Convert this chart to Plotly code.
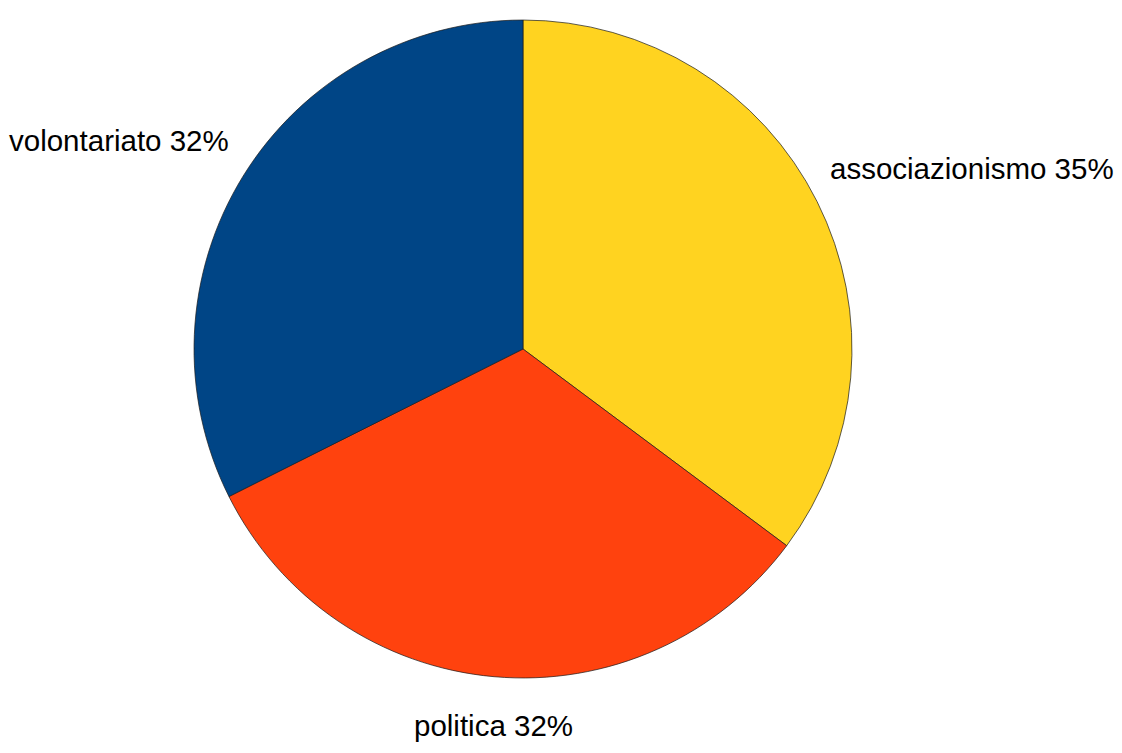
import plotly.graph_objects as go

labels = ["associazionismo", "politica", "volontariato"]
values = [35.2, 32.4, 32.4]
colors = ["#FFD320", "#FF420E", "#004586"]

# label placement (paper coordinates)
label_x = [0.8592, 0.4323, 0.0989]
label_y = [0.7862, 0.0478, 0.8247]

total = sum(values)
texts = [f"{l} {round(v / total * 100)}%" for l, v in zip(labels, values)]

fig = go.Figure()
fig.add_trace(go.Pie(
    labels=labels,
    values=values,
    sort=False,
    direction="clockwise",
    rotation=0,
    marker=dict(colors=colors, line=dict(color="#1a1a1a", width=0.7)),
    textinfo="none",
    hoverinfo="label+percent",
    showlegend=False,
    domain=dict(x=[0.1658, 0.7522], y=[0.1102, 0.9841]),
))

for t, x, y in zip(texts, label_x, label_y):
    fig.add_annotation(
        text=t, x=x, y=y, xref="paper", yref="paper",
        showarrow=False, xanchor="center", yanchor="middle",
        font=dict(family="Liberation Sans, Arial, sans-serif", size=29.5, color="#000000"),
    )

fig.update_layout(
    width=1122, height=753,
    margin=dict(l=0, r=0, t=0, b=0),
    paper_bgcolor="#ffffff",
    plot_bgcolor="#ffffff",
)

fig.write_html("out.html")
